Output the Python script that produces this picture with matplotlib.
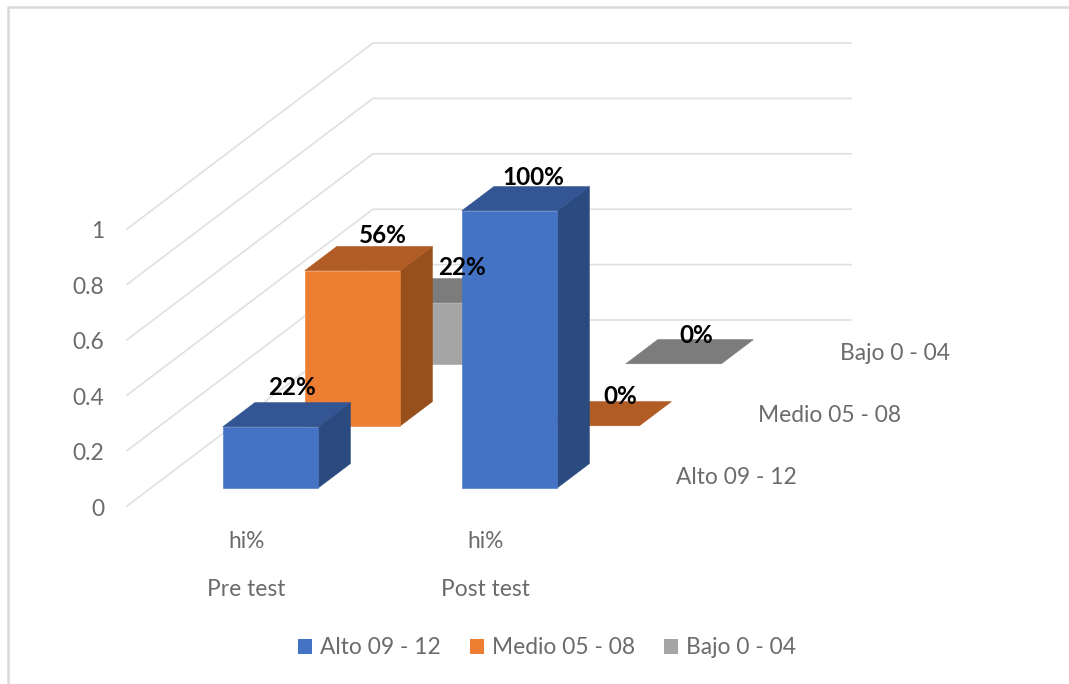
import matplotlib
matplotlib.use('Agg')
import matplotlib.pyplot as plt
from matplotlib.patches import Patch, Polygon

plt.rcParams['font.family'] = ['Lato', 'DejaVu Sans']

# data
series = ['Alto 09 - 12', 'Medio 05 - 08', 'Bajo 0 - 04']
pre_test = [0.22, 0.56, 0.22]
post_test = [1.0, 0.0, 0.0]
values = [pre_test, post_test]
groups = ['Pre test', 'Post test']
sublabels = ['hi%', 'hi%']
ticks = [0, 0.2, 0.4, 0.6, 0.8, 1]
tick_labels = ['0', '0.2', '0.4', '0.6', '0.8', '1']

# colours: front, top, side
front = ['#4472C4', '#ED7D31', '#A5A5A5']
top = ['#335593', '#B25C25', '#7C7C7C']
side = ['#2A4A80', '#97501C', '#6A6A6A']
text_col = '#6B6B6B'

# manual label nudges (Excel placed these by hand), px from back edge of top face
nudge = {(0, 0): (-11, -15), (0, 1): (-2, -11), (0, 2): (-5, -11),
         (1, 0): (-8, -9), (1, 1): (-3, -5), (1, 2): (-9, -4)}

# oblique projection of the 3d chart box, to pixels
X0, Y0 = 127, 506
CAT_W, VAL_H = 239, 277
DEPTH_X, DEPTH_Y = 246, 186
BAR_W, BAR_D = 0.40, 0.13
FS = 16.4


def proj(c, d, v):
    return (X0 + CAT_W * c + DEPTH_X * d, Y0 - DEPTH_Y * d - VAL_H * v)


def face(pts, col, z):
    ax.add_patch(Polygon(pts, fc=col, ec=col, lw=0.4, zorder=z))


fig = plt.figure(figsize=(10.69, 6.84), dpi=100)
ax = fig.add_axes([0, 0, 1, 1])
ax.set_xlim(0, 1069)
ax.set_ylim(684, 0)
ax.axis('off')

# chart frame
ax.plot([8, 8, 1069], [684, 7, 7], color='#D9D9D9', lw=1.8)

# gridlines and value labels
for t, lab in zip(ticks, tick_labels):
    pts = [proj(0, 0, t), proj(0, 1, t), proj(2, 1, t)]
    ax.plot([p[0] for p in pts], [p[1] for p in pts], color='#E0E0E0', lw=1.2)
    x, y = proj(0, 0, t)
    ax.text(x - 23, y + 3, lab, ha='right', va='center', fontsize=FS, color=text_col)

# bars, back to front
for g in range(len(groups)):
    for s in reversed(range(len(series))):
        v = values[g][s]
        c0, c1 = g + 0.5 - BAR_W / 2, g + 0.5 + BAR_W / 2
        d0, d1 = s / 3 + 0.098, s / 3 + 0.098 + BAR_D
        z = 10 + g * 10 - s
        if v > 0:
            face([proj(c1, d0, 0), proj(c1, d1, 0), proj(c1, d1, v), proj(c1, d0, v)], side[s], z)
            face([proj(c0, d0, 0), proj(c1, d0, 0), proj(c1, d0, v), proj(c0, d0, v)], front[s], z)
        face([proj(c0, d0, v), proj(c1, d0, v), proj(c1, d1, v), proj(c0, d1, v)], top[s], z)

# data labels
for g in range(len(groups)):
    for s in range(len(series)):
        v = values[g][s]
        x, y = proj(g + 0.5, s / 3 + 0.098 + BAR_D, v)
        dx, dy = nudge[(g, s)]
        ax.text(x + dx, y + dy, f'{v:.0%}', ha='center', va='center', fontsize=17.5,
                fontweight='bold', color='black', zorder=50)

# category labels
for g in range(len(groups)):
    x = proj(g + 0.5, 0, 0)[0]
    ax.text(x, 541, sublabels[g], ha='center', va='center', fontsize=FS, color=text_col)
    ax.text(x, 589, groups[g], ha='center', va='center', fontsize=FS, color=text_col)

# series names on the depth axis
for s in range(len(series)):
    x, y = proj(2, s / 3 + 0.098, 0)
    ax.text(x + 47, y - 10, series[s], ha='left', va='center', fontsize=FS, color=text_col)

handles = [Patch(fc=front[s], ec='none', label=series[s]) for s in range(len(series))]
ax.legend(handles=handles, ncol=3, loc='center', bbox_to_anchor=(547, 648),
          bbox_transform=ax.transData, frameon=False, fontsize=FS, labelcolor=text_col,
          handlelength=0.6, handleheight=0.6, handletextpad=0.34, columnspacing=1.3)

fig.savefig('out.png', dpi=100)
